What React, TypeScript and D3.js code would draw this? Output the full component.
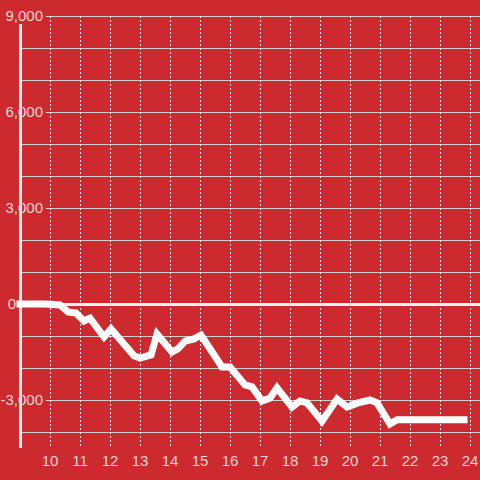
import React from 'react';
import * as d3 from 'd3';

// time of day (HH:MM) and running value
const times = [
  '09:00', '09:50', '10:20', '10:36', '10:52', '11:08', '11:20', '11:48', '12:02', '12:48',
  '13:00', '13:22', '13:34', '14:04', '14:16', '14:30', '14:48', '15:02', '15:44', '16:00',
  '16:30', '16:44', '17:04', '17:20', '17:34', '18:04', '18:20', '18:34', '19:04', '19:34',
  '19:54', '20:16', '20:40', '20:54', '21:20', '21:34', '23:48',
];
const values = [
  0, 0, -30, -250, -280, -530, -440, -1030, -780, -1620,
  -1690, -1590, -940, -1500, -1400, -1160, -1090, -970, -1970, -1970,
  -2530, -2590, -3030, -2940, -2620, -3220, -3030, -3090, -3660, -2970,
  -3220, -3090, -3000, -3090, -3750, -3620, -3620,
];
const yTicks = [9000, 6000, 3000, 0, -3000];
const yGrid = d3.range(-4000, 9001, 1000);
const xTicks = d3.range(10, 25);

const W = 480;
const H = 480;
const BG = '#cc2a2f';
const TEXT = '#f3d6d7';

export default function App() {
  const x = d3.scaleLinear().domain([9, 24 + 1 / 3]).range([20, 480]);
  const y = d3.scaleLinear().domain([-4000, 9000]).range([432, 16]);

  const toHour = (t: string) => {
    const [h, m] = t.split(':').map(Number);
    return h + m / 60;
  };
  const pts = times.map((t, i) => ({ h: toHour(t), v: values[i] }));
  const line = d3
    .line<{ h: number; v: number }>()
    .x(d => x(d.h))
    .y(d => y(d.v));

  const fmt = d3.format(',');
  const axisBottom = 448;

  return (
    <svg
      width={W}
      height={H}
      style={{ position: 'fixed', left: 0, top: 0, display: 'block' }}
      fontFamily="'Liberation Sans', Arial, sans-serif"
    >
      <rect width={W} height={H} fill={BG} />

      {/* horizontal grid */}
      {yGrid.filter(v => v !== 0).map(v => (
        <line
          key={v}
          x1={yTicks.includes(v) ? 46 : 22}
          x2={W}
          y1={y(v) + 0.5}
          y2={y(v) + 0.5}
          stroke="#cfcfcf"
          strokeWidth={1}
        />
      ))}

      {/* vertical dashed grid */}
      {xTicks.map(h => (
        <line
          key={h}
          x1={x(h) + 0.5}
          x2={x(h) + 0.5}
          y1={y(9000)}
          y2={axisBottom}
          stroke="#eeeeee"
          strokeWidth={1}
          strokeDasharray="2,2"
        />
      ))}

      {/* zero line */}
      <line x1={17} x2={W} y1={y(0) + 0.5} y2={y(0) + 0.5} stroke="#f4f4f4" strokeWidth={3} />

      {/* y axis */}
      <line x1={20.5} x2={20.5} y1={24} y2={axisBottom} stroke="#f4f4f4" strokeWidth={3} />

      {/* data */}
      <path
        d={line(pts) || ''}
        fill="none"
        stroke="#ffffff"
        strokeWidth={7}
        strokeLinecap="square"
      />

      {/* y labels */}
      {yTicks.map(v => (
        <text
          key={v}
          x={v === 0 ? 16 : 43}
          y={y(v)}
          dy="0.36em"
          textAnchor="end"
          fontSize={15}
          fill={TEXT}
        >
          {fmt(v).replace('−', '-')}
        </text>
      ))}

      {/* x labels */}
      {xTicks.map(h => (
        <text key={h} x={x(h)} y={466} textAnchor="middle" fontSize={15} fill={TEXT}>
          {h}
        </text>
      ))}
    </svg>
  );
}
